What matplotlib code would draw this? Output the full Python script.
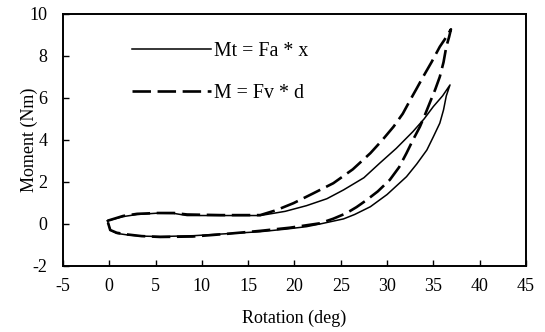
import matplotlib

matplotlib.use("Agg")
import matplotlib.pyplot as plt

# Mt = Fa * x  (solid loop: loading branch then unloading branch)
mt_rotation = [-0.2, 1.5, 3.0, 5.1, 7.0, 8.4, 12.0, 16.3, 19.0, 21.3, 23.5, 25.3, 27.5, 29.2,
               31.0, 32.8, 34.0, 35.0, 36.0, 36.8,
               36.4, 36.1, 35.7, 35.0, 34.3, 33.2, 32.1, 30.0, 28.2, 26.5, 25.3, 23.0, 21.3,
               19.0, 16.3, 12.5, 9.1, 5.5, 3.5, 1.9, 0.8, 0.1, -0.2]
mt_moment = [0.15, 0.35, 0.45, 0.51, 0.50, 0.40, 0.40, 0.40, 0.60, 0.87, 1.20, 1.62, 2.20, 2.89,
             3.60, 4.40, 5.00, 5.59, 6.10, 6.62,
             6.10, 5.43, 4.80, 4.15, 3.52, 2.85, 2.25, 1.40, 0.82, 0.45, 0.24, 0.02, -0.13,
             -0.25, -0.37, -0.47, -0.56, -0.60, -0.58, -0.52, -0.45, -0.29, 0.15]

# M = Fv * d  (dashed loop)
m_rotation = [-0.2, 1.5, 3.0, 5.1, 7.0, 8.4, 12.0, 16.3, 18.0, 19.9, 22.0, 24.2, 26.3, 28.2,
              29.5, 30.7, 31.7, 32.5, 33.2, 33.9, 34.8, 35.7, 36.4, 36.9,
              36.7, 36.4, 36.1, 35.7, 35.2, 34.6, 34.1, 33.55, 32.8, 32.1, 31.3, 30.3, 29.0,
              27.8, 26.7, 25.6, 24.2, 22.75, 19.5, 16.3, 12.5, 9.0, 5.5, 3.5, 1.9, 0.8, 0.1, -0.2]
m_moment = [0.15, 0.38, 0.48, 0.52, 0.52, 0.45, 0.42, 0.42, 0.65, 0.99, 1.45, 1.94, 2.60, 3.37,
            4.00, 4.63, 5.25, 5.90, 6.45, 7.01, 7.70, 8.44, 8.90, 9.27,
            8.90, 8.44, 7.70, 7.01, 6.40, 5.75, 5.20, 4.63, 4.00, 3.37, 2.70, 2.10, 1.55,
            1.14, 0.80, 0.51, 0.25, 0.03, -0.18, -0.33, -0.48, -0.60, -0.62, -0.58, -0.50, -0.42, -0.29, 0.15]

x_ticks = [-5, 0, 5, 10, 15, 20, 25, 30, 35, 40, 45]
y_ticks = [-2, 0, 2, 4, 6, 8, 10]

plt.rcParams["font.family"] = ["Liberation Serif", "DejaVu Serif"]
plt.rcParams["font.size"] = 13
plt.rcParams["axes.unicode_minus"] = False

figure = plt.figure(figsize=(5.45, 3.32), dpi=100)
axis = figure.add_axes([0.1156, 0.199, 0.8494, 0.759])

axis.plot(mt_rotation, mt_moment, color="black", linewidth=1.1, label="Mt = Fa * x")
axis.plot(m_rotation, m_moment, color="black", linewidth=1.9, linestyle=(0, (7, 2.5)),
          label="M = Fv * d")

axis.set_xlim(-5, 45)
axis.set_ylim(-2, 10)
axis.set_xticks(x_ticks)
axis.set_yticks(y_ticks)
axis.tick_params(direction="in", length=4, width=1, colors="black", labelsize=13)
axis.tick_params(axis="x", pad=9)
axis.tick_params(axis="y", pad=11)
for spine in axis.spines.values():
    spine.set_linewidth(1.4)

axis.set_xlabel("Rotation (deg)", fontsize=13)
axis.set_ylabel("Moment (Nm)", fontsize=13)
axis.xaxis.set_label_coords(0.5, -0.175)
axis.yaxis.set_label_coords(-0.055, 0.5)

axis.legend(loc="upper left", bbox_to_anchor=(0.15, 0.89), frameon=False, fontsize=14.3,
            handlelength=3.97, handletextpad=0.15, labelspacing=1.15, borderaxespad=0,
            borderpad=0)

figure.savefig("out.png", dpi=100)
plt.close(figure)
